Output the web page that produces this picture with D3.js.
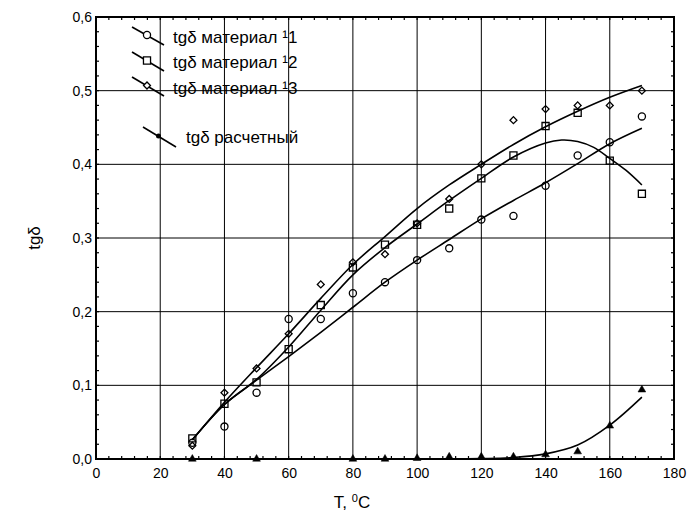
<!DOCTYPE html>
<html>
<head>
<meta charset="utf-8">
<title>tgδ</title>
<script src="https://cdn.jsdelivr.net/npm/d3@7/dist/d3.min.js"></script>
<style>
  body { margin: 0; background: #fff; }
  svg text { font-family: "Liberation Sans", Arial, sans-serif; fill: #000; }
</style>
</head>
<body>
<script>

// measured points, T in degrees C
var temps = [30, 40, 50, 60, 70, 80, 90, 100, 110, 120, 130, 140, 150, 160, 170];
var mat1 = [0.022, 0.044, 0.090, 0.190, 0.190, 0.225, 0.240, 0.270, 0.286, 0.325, 0.330, 0.371, 0.412, 0.430, 0.465];
var mat2 = [0.028, 0.075, 0.104, 0.149, 0.209, 0.260, 0.291, 0.318, 0.340, 0.381, 0.412, 0.452, 0.470, 0.405, 0.360];
var mat3 = [0.018, 0.090, 0.123, 0.170, 0.237, 0.267, 0.278, 0.320, 0.353, 0.400, 0.460, 0.475, 0.480, 0.480, 0.500];
var calcT = [30, 50, 80, 90, 100, 110, 120, 130, 140, 150, 160, 170];
var calcV = [0.000, 0.000, 0.000, 0.000, 0.001, 0.003, 0.003, 0.003, 0.006, 0.010, 0.045, 0.094];

// fitted curves
var fitT = [30, 40, 50, 60, 70, 80, 90, 100, 110, 120, 130, 140, 150, 160, 170];
var fit1 = [0.026, 0.074, 0.107, 0.139, 0.172, 0.206, 0.240, 0.270, 0.298, 0.326, 0.351, 0.375, 0.401, 0.428, 0.449];
var fit3 = [0.026, 0.077, 0.124, 0.170, 0.218, 0.264, 0.302, 0.340, 0.372, 0.400, 0.427, 0.451, 0.472, 0.491, 0.507];
var fit2T = [30, 40, 50, 60, 70, 80, 90, 100, 110, 120, 130, 140, 145, 150, 155, 160, 165, 170];
var fit2 = [0.026, 0.074, 0.108, 0.152, 0.202, 0.250, 0.287, 0.319, 0.351, 0.381, 0.410, 0.429, 0.433, 0.431, 0.423, 0.408, 0.392, 0.372];
var fitCT = [110, 120, 130, 140, 150, 160, 170];
var fitC = [0.000, 0.0005, 0.002, 0.007, 0.019, 0.046, 0.084];

var xTicks = [0, 20, 40, 60, 80, 100, 120, 140, 160, 180];
var yTicks = [0, 0.1, 0.2, 0.3, 0.4, 0.5, 0.6];
var legendLabels = ["tgδ материал  ¹1", "tgδ материал  ¹2", "tgδ материал  ¹3", "tgδ расчетный"];

var margin = {top: 17, right: 14, bottom: 59, left: 96};
var svg_width = 688, svg_height = 518;
var width = svg_width - margin.left - margin.right;
var height = svg_height - margin.top - margin.bottom;

var svg = d3.select("body").append("svg")
	.attr("width", svg_width)
	.attr("height", svg_height);
var g = svg.append("g")
	.attr("transform", "translate(" + margin.left + "," + margin.top + ")");

var x = d3.scaleLinear().domain([0, 180]).range([0, width]);
var y = d3.scaleLinear().domain([0, 0.6]).range([height, 0]);
var fmt = function(d) { return d3.format(".1f")(d).replace(".", ","); };

// grid
g.append("g").selectAll("line").data(xTicks.slice(1, -1)).enter().append("line")
	.attr("x1", function(d) { return x(d); }).attr("x2", function(d) { return x(d); })
	.attr("y1", 0).attr("y2", height)
	.attr("stroke", "#000").attr("stroke-width", 1);
g.append("g").selectAll("line").data(yTicks.slice(1, -1)).enter().append("line")
	.attr("y1", function(d) { return y(d); }).attr("y2", function(d) { return y(d); })
	.attr("x1", 0).attr("x2", width)
	.attr("stroke", "#000").attr("stroke-width", 1);

// axes with inside minor ticks
var xMinor = d3.range(0, 181, 4);
var yMinor = d3.range(0, 0.601, 0.02);
var axB = g.append("g").attr("transform", "translate(0," + height + ")")
	.call(d3.axisBottom(x).tickValues(xTicks).tickSize(0).tickPadding(9).tickFormat(d3.format("d")));
var axL = g.append("g")
	.call(d3.axisLeft(y).tickValues(yTicks).tickSize(0).tickPadding(4).tickFormat(fmt));
[axB, axL].forEach(function(a) {
	a.select(".domain").remove();
	a.selectAll("text").attr("font-size", 14).attr("font-family", "Liberation Sans, Arial, sans-serif");
});

var minor = g.append("g").attr("stroke", "#000").attr("stroke-width", 1.2);
xMinor.forEach(function(d) {
	minor.append("line").attr("x1", x(d)).attr("x2", x(d)).attr("y1", height).attr("y2", height - 3);
	minor.append("line").attr("x1", x(d)).attr("x2", x(d)).attr("y1", 0).attr("y2", 3);
});
yMinor.forEach(function(d) {
	minor.append("line").attr("y1", y(d)).attr("y2", y(d)).attr("x1", 0).attr("x2", 3);
	minor.append("line").attr("y1", y(d)).attr("y2", y(d)).attr("x1", width).attr("x2", width - 3);
});

g.append("rect").attr("width", width).attr("height", height)
	.attr("fill", "none").attr("stroke", "#000").attr("stroke-width", 2);

// fitted curves
var line = d3.line()
	.x(function(d) { return x(d[0]); })
	.y(function(d) { return y(d[1]); })
	.curve(d3.curveCatmullRom);
var fits = [d3.zip(fitT, fit1), d3.zip(fit2T, fit2), d3.zip(fitT, fit3), d3.zip(fitCT, fitC)];
g.append("g").selectAll("path").data(fits).enter().append("path")
	.attr("d", line).attr("fill", "none").attr("stroke", "#000").attr("stroke-width", 1.6);

// markers
var symCircle = d3.symbol().type(d3.symbolCircle).size(40)();
var symSquare = d3.symbol().type(d3.symbolSquare).size(50)();
var symDiamond = d3.symbol().type(d3.symbolSquare).size(24)();
var symTri = d3.symbol().type(d3.symbolTriangle).size(26)();

function drawMarks(tt, vv, path, rot, filled) {
	g.append("g").selectAll("path").data(d3.zip(tt, vv)).enter().append("path")
		.attr("d", path)
		.attr("transform", function(d) { return "translate(" + x(d[0]) + "," + y(d[1]) + ") rotate(" + rot + ")"; })
		.attr("fill", filled ? "#000" : "none")
		.attr("stroke", "#000").attr("stroke-width", filled ? 0.5 : 1.3);
}
drawMarks(temps, mat1, symCircle, 0, false);
drawMarks(temps, mat2, symSquare, 0, false);
drawMarks(temps, mat3, symDiamond, 45, false);
drawMarks(calcT, calcV, symTri, 0, true);

// legend
var leg = svg.append("g");
var legRows = [
	{x1: 132, y1: 27, x2: 164, y2: 45, sym: symCircle, rot: 0, tx: 173, ty: 37},
	{x1: 132, y1: 52, x2: 164, y2: 71, sym: symSquare, rot: 0, tx: 173, ty: 62},
	{x1: 132, y1: 77, x2: 164, y2: 96, sym: symDiamond, rot: 45, tx: 173, ty: 88},
	{x1: 143, y1: 127, x2: 176, y2: 147, sym: null, rot: 0, tx: 186, ty: 137}
];
legRows.forEach(function(r, i) {
	leg.append("line").attr("x1", r.x1).attr("y1", r.y1).attr("x2", r.x2).attr("y2", r.y2)
		.attr("stroke", "#000").attr("stroke-width", 1.6);
	var cx = (r.x1 + r.x2) / 2, cy = (r.y1 + r.y2) / 2;
	if (r.sym) {
		leg.append("path").attr("d", r.sym)
			.attr("transform", "translate(" + (cx - 1) + "," + (cy - 1) + ") rotate(" + r.rot + ")")
			.attr("fill", "#fff").attr("stroke", "#000").attr("stroke-width", 1.3);
	} else {
		leg.append("circle").attr("cx", cx - 1).attr("cy", cy - 1).attr("r", 2.5).attr("fill", "#000");
	}
	leg.append("text").attr("x", r.tx).attr("y", r.ty).attr("dy", "0.35em")
		.attr("font-size", 17).text(legendLabels[i]);
});

// axis titles
svg.append("text").attr("x", 352).attr("y", 508).attr("text-anchor", "middle")
	.attr("font-size", 17).html("T, <tspan dy='-6' font-size='11'>0</tspan><tspan dy='6'>C</tspan>");
svg.append("text").attr("transform", "translate(40,238) rotate(-90)")
	.attr("text-anchor", "middle").attr("font-size", 17).text("tgδ");

</script>
</body>
</html>
